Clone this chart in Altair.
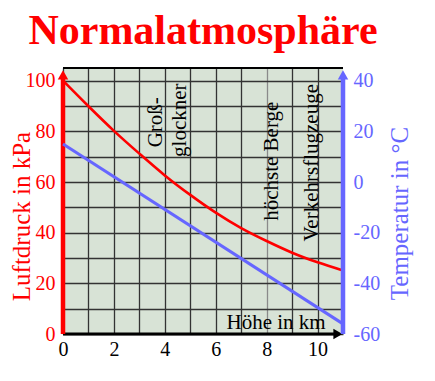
import altair as alt
import pandas as pd

# ---------------- data ----------------
chart_title = "Normalatmosphäre"
heights = [0, 1, 2, 3, 4, 5, 6, 7, 8, 9, 10, 11]
pressure = [100, 89.9, 80.2, 71.2, 62.6, 54.9, 47.9, 41.8, 36.7, 32.1, 28.3, 25.1]
temp_heights = [0, 11]
temperature = [15, -56]
x_grid = [0, 1, 2, 3, 4, 5, 6, 7, 8, 9, 10]
p_grid = [0, 10, 20, 30, 40, 50, 60, 70, 80, 90, 100]
t_ticks = [-60, -40, -20, 0, 20, 40]
note_texts = ["Groß-", "glockner", "höchste Berge", "Verkehrsflugzeuge"]
note_x = [3.67, 4.58, 8.23, 9.77]
note_p = [83.6, 84.4, 68.2, 67.6]
x_title = "Höhe in km"
y_title = "Luftdruck in kPa"
y2_title = "Temperatur in °C"

RED = "#ff0000"
BLUE = "#6666ff"
FONT = "Liberation Serif"
BG = "#d8e3d6"

p_df = pd.DataFrame({"h": heights, "p": pressure})
t_df = pd.DataFrame({"h": temp_heights, "t": temperature})
n_df = pd.DataFrame({"label": note_texts, "h": note_x, "p": note_p})
one = pd.DataFrame({"k": [0]})

xscale = alt.Scale(domain=[0, 11], nice=False, zero=False)
pscale = alt.Scale(domain=[0, 105], nice=False, zero=False)
tscale = alt.Scale(domain=[-60, 45], nice=False, zero=False)

x_axis = alt.Axis(
    values=x_grid,
    labelExpr="datum.value % 2 == 0 ? datum.label : ''",
    grid=True,
    gridColor={"condition": {"test": "datum.value == 8", "value": "#8a8a8a"}, "value": "#333333"},
    gridWidth=1.3,
    ticks=False,
    domain=False,
    labelFont=FONT,
    labelFontSize=20,
    labelColor="black",
    labelPadding=5,
    labelFlush=False,
    labelOverlap=False,
    title=None,
)
p_axis = alt.Axis(
    values=p_grid,
    labelExpr="datum.value % 20 == 0 ? datum.label : ''",
    grid=True,
    gridColor="#333333",
    gridWidth=1.3,
    ticks=False,
    domain=False,
    labelFont=FONT,
    labelFontSize=20,
    labelColor=RED,
    labelPadding=8,
    labelOverlap=False,
    title=y_title,
    titleFont=FONT,
    titleFontSize=25,
    titleFontWeight="normal",
    titleColor=RED,
    titleAngle=270,
    titleAlign="center",
    titleBaseline="middle",
    titleX=-42,
    titleY=148,
)
t_axis = alt.Axis(
    orient="right",
    values=t_ticks,
    labelExpr="'' + datum.value",
    grid=False,
    ticks=False,
    domain=False,
    labelFont=FONT,
    labelFontSize=20,
    labelColor=BLUE,
    labelPadding=10,
    labelOverlap=False,
    title=y2_title,
    titleFont=FONT,
    titleFontSize=25,
    titleFontWeight="normal",
    titleColor=BLUE,
    titleAngle=270,
    titleAlign="center",
    titleBaseline="middle",
    titleX=56,
    titleY=145,
)


def xd(v):
    return alt.XDatum(v, scale=xscale, axis=x_axis)


def yd(v):
    return alt.YDatum(v, scale=pscale, axis=p_axis)


red_curve = alt.Chart(p_df).mark_line(color=RED, strokeWidth=2.6, interpolate="monotone").encode(
    x=alt.X("h:Q", scale=xscale, axis=x_axis),
    y=alt.Y("p:Q", scale=pscale, axis=p_axis),
)

notes = alt.Chart(n_df).mark_text(
    angle=270, font=FONT, fontSize=21, align="center", baseline="middle", color="black"
).encode(
    x=alt.X("h:Q", scale=xscale, axis=x_axis),
    y=alt.Y("p:Q", scale=pscale, axis=p_axis),
    text="label:N",
)

xlabel = alt.Chart(one).mark_text(
    font=FONT, fontSize=21, align="center", baseline="alphabetic", color="black"
).encode(x=xd(8.37), y=yd(2.0), text=alt.value(x_title))

top_rule = alt.Chart(one).mark_rule(color="black", strokeWidth=2).encode(
    x=xd(0), x2=alt.X2Datum(11), y=yd(105)
)
left_rule = alt.Chart(one).mark_rule(color=RED, strokeWidth=4.5).encode(
    x=xd(0), y=yd(0), y2=alt.Y2Datum(101)
)
left_arrow = alt.Chart(one).mark_point(shape="triangle-up", filled=True, size=110, color=RED, opacity=1).encode(
    x=xd(0), y=yd(102.3)
)
bottom_rule = alt.Chart(one).mark_rule(color="black", strokeWidth=3).encode(
    x=xd(0), x2=alt.X2Datum(10.7), y=yd(0)
)
bottom_arrow = alt.Chart(one).mark_point(shape="triangle-right", filled=True, size=110, color="black", opacity=1).encode(
    x=xd(10.8), y=yd(0)
)
right_rule = alt.Chart(one).mark_rule(color=BLUE, strokeWidth=4.5).encode(
    x=xd(11), y=yd(0), y2=alt.Y2Datum(101)
)
right_arrow = alt.Chart(one).mark_point(shape="triangle-up", filled=True, size=110, color=BLUE, opacity=1).encode(
    x=xd(11), y=yd(102.3)
)

pressure_layer = alt.layer(
    red_curve, notes, xlabel, top_rule, bottom_rule, bottom_arrow,
    left_rule, left_arrow, right_rule, right_arrow,
)

blue_line = alt.Chart(t_df).mark_line(color=BLUE, strokeWidth=3).encode(
    x=alt.X("h:Q", scale=xscale, axis=x_axis),
    y=alt.Y("t:Q", scale=tscale, axis=t_axis),
)

chart = alt.layer(pressure_layer, blue_line).resolve_scale(y="independent").properties(
    width=280,
    height=266,
    autosize=alt.AutoSizeParams(type="none"),
    padding={"left": 55, "top": 60, "right": 80, "bottom": 40},
    title=alt.TitleParams(
        chart_title, font=FONT, fontSize=42, fontWeight="bold", color=RED,
        anchor="middle", frame="group", offset=14,
    ),
).configure_view(fill=BG, stroke=None)

chart.save("out.html", embed_options={"renderer": "svg", "actions": False})
